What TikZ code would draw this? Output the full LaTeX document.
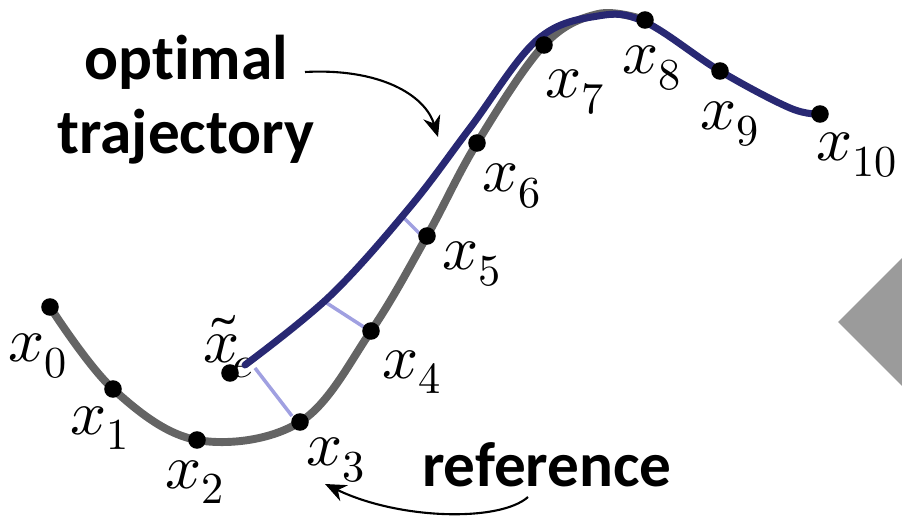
\documentclass[tikz,border=0pt]{standalone}
\usepackage{fontspec}
\usepackage{unicode-math}
\setmathfont{Latin Modern Math}
\newfontfamily\lblfont[Ligatures={NoCommon}]{Carlito}
\usetikzlibrary{arrows.meta}
\definecolor{refgray}{RGB}{100,100,100}
\definecolor{optblue}{RGB}{40,40,115}
\definecolor{linkblue}{RGB}{160,160,225}
\definecolor{tri}{RGB}{155,155,155}
\tikzset{
  dotpt/.style={circle,fill=black,inner sep=0pt,minimum size=10pt},
  mlabel/.style={inner sep=0pt,font=\fontsize{36}{40}\selectfont},
  blabel/.style={inner sep=0pt,font=\lblfont\bfseries\fontsize{36}{42}\selectfont,align=center},
  refcurve/.style={draw=refgray,line width=4.5pt,line cap=round},
  optcurve/.style={draw=optblue,line width=4pt,line cap=round},
  linkline/.style={draw=linkblue,line width=2pt},
  callout/.style={draw=black,line width=1.2pt,-{Stealth[length=12pt,width=10pt]}}
}
\begin{document}
\begin{tikzpicture}[x=0.02cm,y=-0.02cm]
\useasboundingbox (0,0) rectangle (902,520);
% gray triangle on right
\fill[tri] (838,322) -- (902,258) -- (902,386) -- cycle;
% reference curve
\draw[refcurve] plot[smooth,tension=0.6] coordinates {(50,307) (113,389) (197,440) (300,422) (371,331) (427,236) (477,143) (544,45) (598,14) (645,20)};
% link lines
\coordinate (l1a) at (255,368); \coordinate (l1b) at (292,416);
\coordinate (l2a) at (322,300); \coordinate (l2b) at (370,331);
\coordinate (l3a) at (400,214); \coordinate (l3b) at (420,234);
\draw[linkline] (l1a) -- (l1b);
\draw[linkline] (l2a) -- (l2b);
\draw[linkline] (l3a) -- (l3b);
% tilde x dot and label
\node[dotpt] (xt) at (230,373) {};
\node[mlabel,anchor=base west] (tt) at (203,362) {$\tilde{x}_{\!e}$};
% optimal curve
\draw[optcurve] plot[smooth,tension=0.6] coordinates {(245,365) (330,296) (410,207) (470,128) (537,40) (598,16) (645,22) (720,71) (790,108) (820,114)};
% dots
\node[dotpt] (x0) at (50,307) {};
\node[dotpt] (x1) at (113,389) {};
\node[dotpt] (x2) at (197,440) {};
\node[dotpt] (x3) at (300,422) {};
\node[dotpt] (x4) at (371,331) {};
\node[dotpt] (x5) at (427,236) {};
\node[dotpt] (x6) at (477,143) {};
\node[dotpt] (x7) at (544,45) {};
\node[dotpt] (x8) at (645,20) {};
\node[dotpt] (x9) at (720,71) {};
\node[dotpt] (x10) at (820,114) {};
% labels
\node[mlabel] (t0) at (38,356) {$x_0$};
\node[mlabel] (t1) at (100,428) {$x_1$};
\node[mlabel] (t2) at (195,482) {$x_2$};
\node[mlabel] (t3) at (336,460) {$x_3$};
\node[mlabel] (t4) at (412,372) {$x_4$};
\node[mlabel] (t5) at (472,264) {$x_5$};
\node[mlabel] (t6) at (512,186) {$x_6$};
\node[mlabel] (t7) at (575,92) {$x_7$};
\node[mlabel] (t8) at (652,68) {$x_8$};
\node[mlabel] (t9) at (730,124) {$x_9$};
\node[mlabel] (t10) at (857,155) {$x_{10}$};
% text labels
\node[blabel] (opt) at (186,100) {optimal\\trajectory};
\node[blabel] (ref) at (547,465) {reference};
\coordinate (a1s) at (305,72);
\coordinate (a1e) at (438,137);
\coordinate (a2s) at (528,497);
\coordinate (a2e) at (325,484);
\draw[callout] (a1s) .. controls (380,68) and (425,95) .. (a1e);
\draw[callout] (a2s) .. controls (500,522) and (400,520) .. (a2e);
\end{tikzpicture}
\end{document}
